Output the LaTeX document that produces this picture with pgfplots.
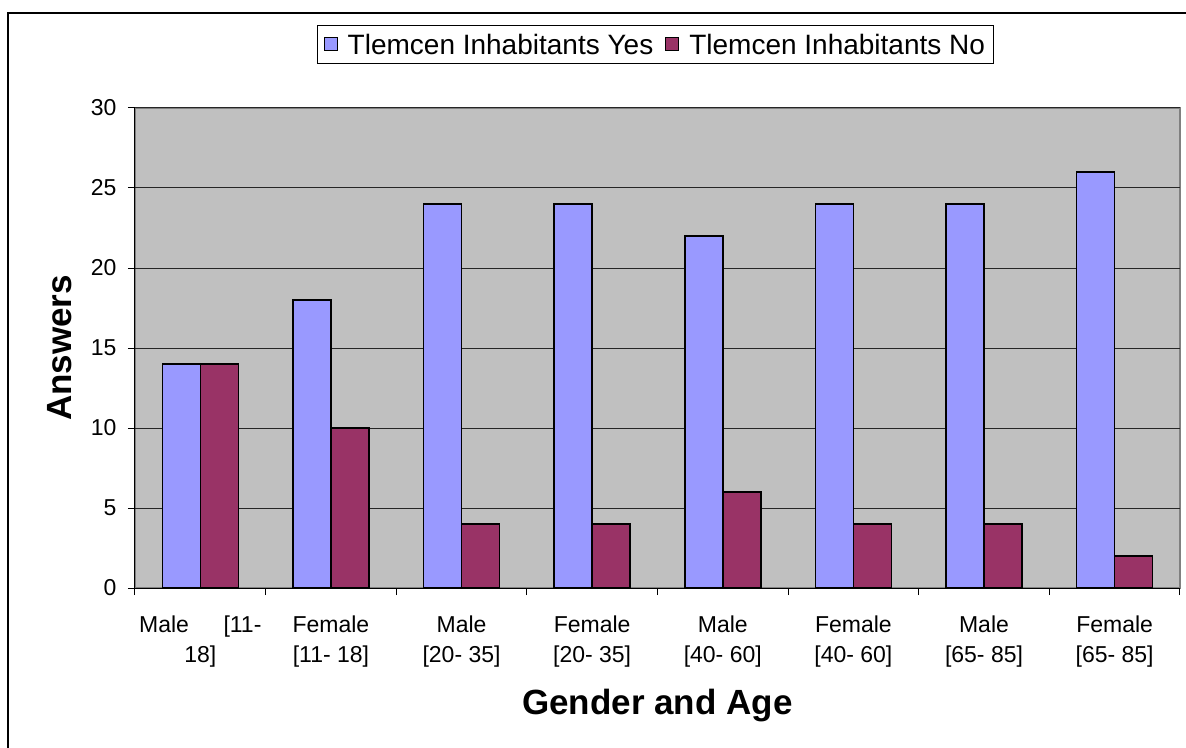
\documentclass[border=0pt]{standalone}
\usepackage{fontspec}
\setmainfont{Liberation Sans}
\usepackage{pgfplots}
\pgfplotsset{compat=1.18}
\definecolor{yesc}{HTML}{9999FF}
\definecolor{noc}{HTML}{993366}
\definecolor{bgc}{HTML}{C0C0C0}
\definecolor{edgec}{HTML}{808080}

\begin{document}
\begin{tikzpicture}
\useasboundingbox (-135pt,-159pt) rectangle (1051pt,588pt);
\draw[line width=2pt] (-127pt,-170pt) -- (-127pt,575pt) -- (1070pt,575pt);
\begin{axis}[
  scale only axis,
  width=1045pt, height=480pt,
  ybar=0pt, bar width=38pt,
  xmin=-0.5, xmax=7.5,
  ymin=0, ymax=30,
  axis lines=left,
  axis line style={-, black, line width=1pt},
  axis background/.style={fill=bgc, draw=edgec, line width=1.5pt},
  xtick={0,...,7},
  xticklabels={{Male\hspace{1.5em}[11-\\18]}, {Female\\{}[11- 18]}, {Male\\{}[20- 35]}, {Female\\{}[20- 35]},
               {Male\\{}[40- 60]}, {Female\\{}[40- 60]}, {Male\\{}[65- 85]}, {Female\\{}[65- 85]}},
  major x tick style={draw=none},
  minor xtick={-0.5,0.5,...,7.5},
  ytick={0,5,...,30},
  tick align=outside,
  major tick length=7pt, minor tick length=7pt,
  tick style={black, line width=1pt},
  ymajorgrids,
  grid style={black!85, line width=1pt},
  tick label style={font=\fontsize{23}{30}\selectfont},
  xticklabel style={align=center, yshift=-17pt},
  yticklabel style={xshift=-8pt},
  /pgf/number format/assume math mode=true,
  ylabel={Answers},
  xlabel={Gender and Age},
  ylabel style={font=\fontsize{35}{40}\selectfont\bfseries, at={(axis description cs:-0.072,0.5)}, anchor=center},
  xlabel style={font=\fontsize{35}{40}\selectfont\bfseries, at={(axis description cs:0.5,-0.244)}, anchor=center},
  legend columns=2,
  legend style={at={(0.498,1.132)}, anchor=center, draw=black, fill=white, line width=1pt,
    font=\fontsize{28}{32}\selectfont, inner xsep=6pt, inner ysep=6pt,
    /tikz/every odd column/.append style={column sep=8pt},
    /tikz/every even column/.append style={column sep=10pt}},
  legend image code/.code={\draw[#1, line width=1pt] (0pt,-6pt) rectangle (13pt,7pt);},
]
\addplot[fill=yesc, draw=black, line width=1.5pt] coordinates {
  (0,14) (1,18) (2,24) (3,24) (4,22) (5,24) (6,24) (7,26)};
\addlegendentry{Tlemcen Inhabitants Yes}
\addplot[fill=noc, draw=black, line width=1.5pt] coordinates {
  (0,14) (1,10) (2,4) (3,4) (4,6) (5,4) (6,4) (7,2)};
\addlegendentry{Tlemcen Inhabitants No}
\end{axis}
\end{tikzpicture}
\end{document}
